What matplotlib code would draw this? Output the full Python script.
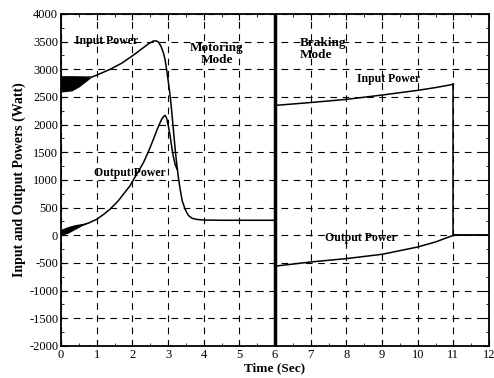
import numpy as np
import matplotlib
matplotlib.use("Agg")
import matplotlib.pyplot as plt
from matplotlib import rcParams
from matplotlib.ticker import MultipleLocator

# 配置
config = {
    "font.family": ['Liberation Serif', 'DejaVu Serif'],
    "font.size": 9,
    'axes.unicode_minus': False
}
rcParams.update(config)

# motoring mode, input power (W)
t_in_mot = [0.0, 0.86, 1.0, 1.37, 1.7, 1.93, 2.1, 2.31, 2.45, 2.59, 2.66, 2.73, 2.8, 2.87, 2.92, 2.96, 3.01, 3.06, 3.1, 3.15,
            3.2, 3.24, 3.29, 3.34, 3.4, 3.48, 3.57, 3.67, 3.8, 4.0, 4.5, 5.0, 6.0]
p_in_mot = [2860, 2860, 2895, 2998, 3110, 3211, 3290, 3392, 3460, 3512, 3515, 3494, 3420, 3300, 3170, 3000, 2770, 2518, 2270, 1915,
            1560, 1313, 1050, 831, 620, 470, 360, 310, 288, 276, 272, 272, 272]
# start-up oscillation envelope of the input power
t_in_band = [0.0, 0.3, 0.5, 0.7, 0.86]
p_in_hi = [2880, 2880, 2875, 2865, 2860]
p_in_lo = [2590, 2610, 2680, 2780, 2860]

# motoring mode, output power (W)
t_out_mot = [0.0, 0.8, 1.0, 1.2, 1.37, 1.6, 1.93, 2.1, 2.31, 2.45, 2.59, 2.7, 2.82, 2.88, 2.92, 2.96, 3.01, 3.06, 3.1, 3.15, 3.2, 3.25]
p_out_mot = [50, 230, 289, 380, 470, 620, 891, 1080, 1313, 1510, 1735, 1920, 2096, 2150, 2168, 2120, 1975, 1800, 1614, 1420, 1280, 1200]
t_out_band = [0.0, 0.2, 0.4, 0.6, 0.8]
p_out_hi = [110, 160, 195, 215, 230]
p_out_lo = [0, 40, 110, 180, 230]

# braking mode (W)
t_brk = [6.03, 7.0, 8.0, 9.0, 10.0, 10.5, 11.0]
p_in_brk = [2349, 2400, 2457, 2535, 2620, 2670, 2729]
p_out_brk = [-555, -482, -421, -343, -211, -120, 0]
t_after = [11.0, 11.0, 12.0]
p_in_after = [2729, 0, 0]
p_out_after = [0, 0, 0]

# switching transient at t = 6 s
t_switch = [6.0, 6.0]
p_switch = [4000, -2000]

fig = plt.figure(figsize=(4.94, 3.78), dpi=100)
ax = fig.add_axes([0.1235, 0.0847, 0.8664, 0.8783])

lw = 1.1
ax.plot(t_in_mot, p_in_mot, 'k-', lw=lw)
ax.fill_between(t_in_band, p_in_lo, p_in_hi, color='k', lw=0)
ax.plot(t_out_mot, p_out_mot, 'k-', lw=lw)
ax.fill_between(t_out_band, p_out_lo, p_out_hi, color='k', lw=0)
ax.plot(t_brk, p_in_brk, 'k-', lw=lw)
ax.plot(t_brk, p_out_brk, 'k-', lw=lw)
ax.plot(t_after, p_in_after, 'k-', lw=lw)
ax.plot(t_after, p_out_after, 'k-', lw=lw)
ax.plot([6.0, 6.03], [272, 2349], 'k-', lw=lw)
ax.plot(t_switch, p_switch, 'k-', lw=2.5)

ax.set_xlim(0, 12)
ax.set_ylim(-2000, 4000)
ax.xaxis.set_major_locator(MultipleLocator(1))
ax.xaxis.set_minor_locator(MultipleLocator(0.5))
ax.yaxis.set_major_locator(MultipleLocator(500))
ax.yaxis.set_minor_locator(MultipleLocator(250))
ax.tick_params(which='both', direction='in', top=True, right=True, pad=2, labelsize=9)
ax.tick_params(which='major', length=4)
ax.tick_params(which='minor', length=2)
ax.grid(True, which='major', color='k', linestyle=(0, (6, 5)), lw=0.8)
for s in ax.spines.values():
    s.set_linewidth(1.3)

# 文字标注
bold = dict(fontweight='bold', fontsize=8.5)
ax.text(1.27, 3510, 'Input Power', ha='center', va='center', **bold)
ax.text(1.93, 1120, 'Output Power', ha='center', va='center', **bold)
ax.text(4.36, 3270, 'Motoring\nMode', ha='center', va='center', linespacing=1.0, fontsize=9.5, fontweight='bold')
ax.text(6.7, 3360, 'Braking\nMode', ha='left', va='center', linespacing=1.0, fontsize=9.5, fontweight='bold')
ax.text(9.17, 2820, 'Input Power', ha='center', va='center', **bold)
ax.text(8.4, -42, 'Output Power', ha='center', va='center', **bold)

ax.set_xlabel('Time (Sec)', fontweight='bold', fontsize=9.5, labelpad=1)
ax.set_ylabel('Input and Output Powers (Watt)', fontweight='bold', fontsize=10, labelpad=2)

fig.savefig('out.png', dpi=100)
